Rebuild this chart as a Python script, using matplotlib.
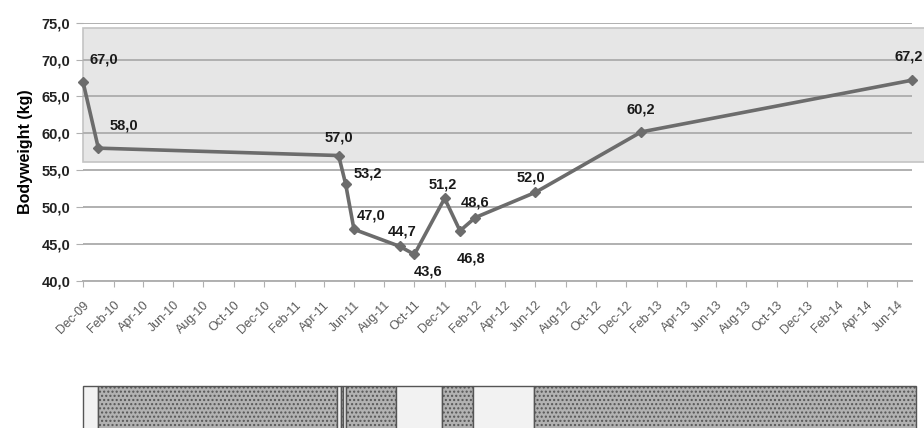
import datetime as dt
import matplotlib
matplotlib.use('Agg')
import matplotlib.pyplot as plt
import matplotlib.dates as mdates
from matplotlib.patches import Rectangle
from matplotlib.ticker import FuncFormatter, MultipleLocator

plt.rcParams['font.family'] = ['Liberation Sans', 'DejaVu Sans']
plt.rcParams['hatch.color'] = '#7c7c7c'
plt.rcParams['hatch.linewidth'] = 1.0

# body weight measurements
dates = ['2009-12-01', '2010-01-01', '2011-05-01', '2011-05-15', '2011-06-01',
         '2011-09-01', '2011-10-01', '2011-12-01', '2012-01-01', '2012-02-01',
         '2012-06-01', '2013-01-01', '2014-07-01']
weight = [67.0, 58.0, 57.0, 53.2, 47.0, 44.7, 43.6, 51.2, 46.8, 48.6, 52.0, 60.2, 67.2]
# label offsets in points (dx, dy)
lab_off = [(5, 16), (8, 16), (0, 13), (6, 7), (2, 10), (2, 11), (10, -12),
           (-1, 10), (8, -20), (0, 11), (-3, 11), (0, 16), (8, 17)]
lab_ha = ['left', 'left', 'center', 'left', 'left', 'center', 'center',
          'center', 'center', 'center', 'center', 'center', 'right']

# reference band (kg)
band_lo, band_hi = 56.1, 74.3

# periods shown in the strip below: (start, end, kind)
periods = [('2009-12-01', '2010-01-01', 'light'),
           ('2010-01-01', '2011-04-28', 'dark'),
           ('2011-04-28', '2011-05-05', 'light'),
           ('2011-05-05', '2011-05-10', 'dark'),
           ('2011-05-10', '2011-05-16', 'light'),
           ('2011-05-16', '2011-08-25', 'dark'),
           ('2011-08-25', '2011-11-25', 'light'),
           ('2011-11-25', '2012-01-28', 'dark'),
           ('2012-01-28', '2012-05-30', 'light'),
           ('2012-05-30', '2014-07-10', 'dark')]

x = [dt.datetime.strptime(d, '%Y-%m-%d') for d in dates]
x0 = dt.datetime(2009, 12, 1)
x1 = dt.datetime(2014, 7, 1)

fig = plt.figure(figsize=(9.24, 4.28), dpi=100)
ax = fig.add_axes([0.0898, 0.3435, 0.897, 0.6035])

# shaded band, extends a bit past the plot to the right
ax.add_patch(Rectangle((0, band_lo), 1.016, band_hi - band_lo,
                       transform=ax.get_yaxis_transform(), facecolor='#e6e6e6',
                       edgecolor='#c4c4c4', lw=1.2, zorder=0, clip_on=False))

ax.set_ylim(40, 75)
ax.set_xlim(x0, x1)
ax.yaxis.set_major_locator(MultipleLocator(5))
ax.yaxis.set_major_formatter(FuncFormatter(lambda v, p: ('%.1f' % v).replace('.', ',')))
ax.grid(axis='y', color='#b0b0b0', lw=1.4, zorder=1)
ax.set_axisbelow(True)

ax.plot(x, weight, color='#6c6c6c', lw=2.6, marker='D', ms=5.5, zorder=3, clip_on=False)
for xi, yi, (dx, dy), ha in zip(x, weight, lab_off, lab_ha):
    ax.annotate(('%.1f' % yi).replace('.', ','), (xi, yi), xytext=(dx, dy),
                textcoords='offset points', ha=ha, va='center', fontsize=10.5,
                fontweight='bold', color='#1a1a1a', annotation_clip=False)

# monthly ticks every two months
ticks = [dt.datetime(2009 + (11 + 2 * i) // 12, (11 + 2 * i) % 12 + 1, 1) for i in range(28)]
ax.set_xticks(ticks)
ax.xaxis.set_major_formatter(mdates.DateFormatter('%b-%y'))
plt.setp(ax.get_xticklabels(), rotation=45, ha='right', rotation_mode='anchor',
         fontsize=9, color='#5a5a5a')
ax.tick_params(axis='x', length=4, color='#b0b0b0', pad=9)
ax.tick_params(axis='y', length=5, color='#b0b0b0', labelsize=10.5, pad=4)
for t in ax.get_yticklabels():
    t.set_fontweight('bold')
    t.set_color('#222222')

for s in ['top', 'right', 'left']:
    ax.spines[s].set_visible(False)
ax.spines['bottom'].set_color('#b0b0b0')
ax.spines['bottom'].set_linewidth(1.4)

ax.set_ylabel('Bodyweight (kg)', fontsize=11.5, fontweight='bold', labelpad=6)

# strip of periods under the chart
ax2 = fig.add_axes([0.0898, -0.05, 0.897, 0.148])
ax2.set_xlim(x0, x1)
ax2.set_ylim(0, 1)
ax2.axis('off')
for a, b, kind in periods:
    da = mdates.date2num(dt.datetime.strptime(a, '%Y-%m-%d'))
    db = mdates.date2num(dt.datetime.strptime(b, '%Y-%m-%d'))
    if kind == 'dark':
        ax2.add_patch(Rectangle((da, 0), db - da, 1, facecolor='#b2b2b2',
                                edgecolor='#555555', hatch='....', lw=1.0, clip_on=False))
    else:
        ax2.add_patch(Rectangle((da, 0), db - da, 1, facecolor='#f2f2f2',
                                edgecolor='#555555', lw=1.0, clip_on=False))

fig.savefig('out.png', dpi=100)
